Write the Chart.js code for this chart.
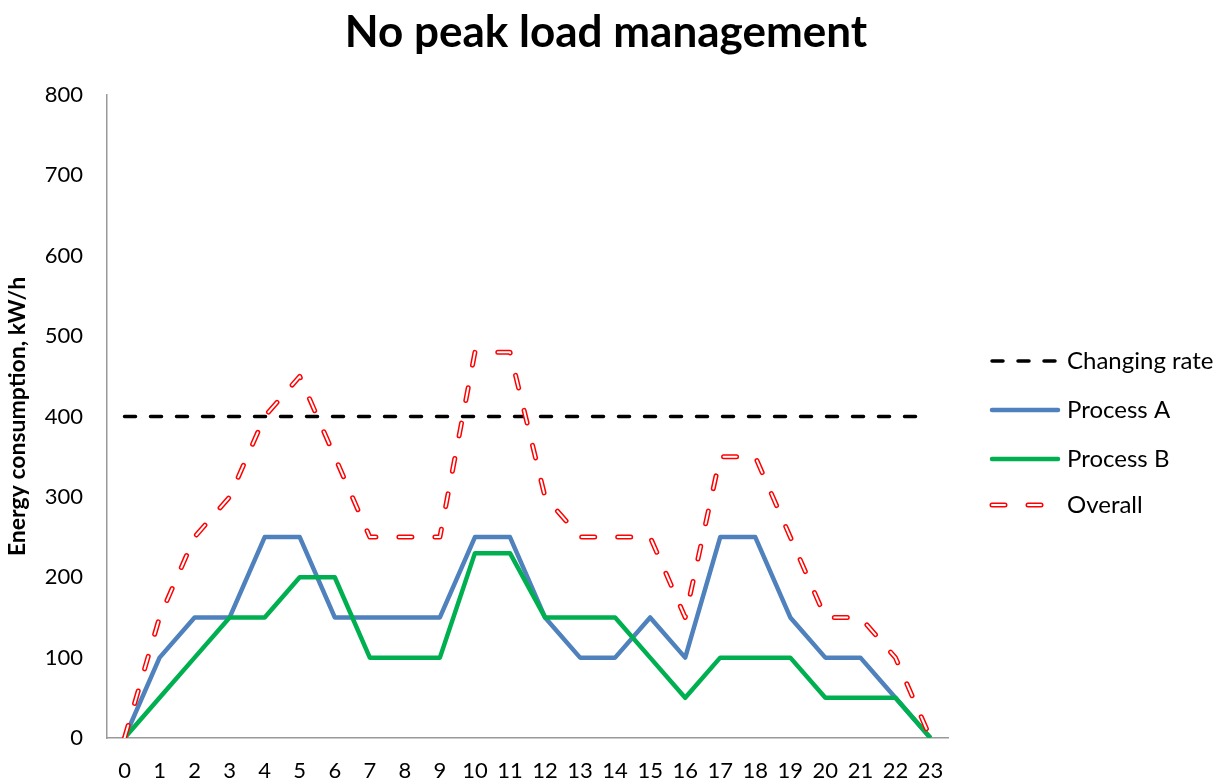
<!DOCTYPE html>
<html>
<head>
<meta charset="utf-8">
<script src="https://cdn.jsdelivr.net/npm/chart.js@4.4.1/dist/chart.umd.min.js"></script>
<style>
  html, body { margin: 0; padding: 0; background: #fff; }
  #wrap { width: 1216px; height: 783px; }
</style>
</head>
<body>
<div id="wrap"><canvas id="chart" width="1216" height="783"></canvas></div>
<script>
// hours of the day
const hours = ['0','1','2','3','4','5','6','7','8','9','10','11','12','13','14','15','16','17','18','19','20','21','22','23'];

// energy consumption per hour, kW/h
const processA = [0, 100, 150, 150, 250, 250, 150, 150, 150, 150, 250, 250, 150, 100, 100, 150, 100, 250, 250, 150, 100, 100, 50, 0];
const processB = [0, 50, 100, 150, 150, 200, 200, 100, 100, 100, 230, 230, 150, 150, 150, 100, 50, 100, 100, 100, 50, 50, 50, 0];
const overall = [0, 150, 250, 300, 400, 450, 350, 250, 250, 250, 480, 480, 300, 250, 250, 250, 150, 350, 350, 250, 150, 150, 100, 0];
const changingRate = [400, 400, 400, 400, 400, 400, 400, 400, 400, 400, 400, 400, 400, 400, 400, 400, 400, 400, 400, 400, 400, 400, 400, 400];

const yTicks = [0, 100, 200, 300, 400, 500, 600, 700, 800];

const FONT = 'Lato, "Open Sans", sans-serif';

// title and legend drawn by hand, the legend samples are lines not boxes
const extras = {
    id: 'extras',
    afterDraw(chart) {
        const c = chart.ctx;
        c.save();
        c.fillStyle = '#000';
        c.font = 'bold 44px ' + FONT;
        c.textAlign = 'center';
        c.textBaseline = 'middle';
        c.fillText('No peak load management', 606, 33);

        const items = [
            { text: 'Changing rate', y: 361, color: '#000', width: 3.5, dash: [11, 15] },
            { text: 'Process A', y: 410, color: '#4F81BD', width: 4.5, dash: [] },
            { text: 'Process B', y: 459, color: '#00B050', width: 4.5, dash: [] },
            { text: 'Overall', y: 505, color: '#FF0000', width: 5, dash: [13, 23], inner: true }
        ];
        c.font = '24px ' + FONT;
        c.textAlign = 'left';
        items.forEach(function (it) {
            c.beginPath();
            c.lineCap = 'round';
            c.lineWidth = it.width;
            c.strokeStyle = it.color;
            c.setLineDash(it.dash);
            c.moveTo(992, it.y);
            c.lineTo(1058, it.y);
            c.stroke();
            if (it.inner) {
                c.lineWidth = 2;
                c.strokeStyle = '#fff';
                c.stroke();
            }
            c.setLineDash([]);
            c.fillStyle = '#000';
            c.fillText(it.text, 1067, it.y);
        });
        c.restore();
    }
};

const ctx = document.getElementById('chart').getContext('2d');
new Chart(ctx, {
    type: 'line',
    data: {
        labels: hours,
        datasets: [
            {
                label: 'Overall inner',
                data: overall,
                borderColor: '#fff',
                borderWidth: 2,
                borderDash: [13, 23],
                borderCapStyle: 'round',
                order: 0
            },
            {
                label: 'Overall',
                data: overall,
                borderColor: '#FF0000',
                borderWidth: 5,
                borderDash: [13, 23],
                borderCapStyle: 'round',
                order: 1
            },
            {
                label: 'Changing rate',
                data: changingRate,
                borderColor: '#000',
                borderWidth: 3.5,
                borderDash: [11, 15],
                borderCapStyle: 'round',
                order: 2
            },
            {
                label: 'Process B',
                data: processB,
                borderColor: '#00B050',
                borderWidth: 4.5,
                order: 3
            },
            {
                label: 'Process A',
                data: processA,
                borderColor: '#4F81BD',
                borderWidth: 4.5,
                order: 4
            }
        ]
    },
    options: {
        responsive: false,
        animation: false,
        elements: {
            point: { radius: 0 },
            line: { tension: 0, borderJoinStyle: 'round' }
        },
        layout: { padding: { top: 95, right: 268, left: 0, bottom: 0 } },
        plugins: {
            legend: { display: false },
            title: { display: false },
            tooltip: { enabled: false }
        },
        scales: {
            x: {
                offset: true,
                grid: { display: false, drawTicks: false },
                border: { color: '#999', width: 1.5 },
                ticks: { color: '#000', font: { family: FONT, size: 22 }, padding: 20, maxRotation: 0, autoSkip: false },
                afterFit: function (s) { s.height = 45; }
            },
            y: {
                min: 0,
                max: 800,
                grid: { display: false, drawTicks: false },
                border: { color: '#999', width: 1.5 },
                afterBuildTicks: function (s) { s.ticks = yTicks.map(function (v) { return { value: v }; }); },
                ticks: { color: '#000', font: { family: FONT, size: 22 }, padding: 24 },
                title: {
                    display: true,
                    text: 'Energy consumption, kW/h',
                    color: '#000',
                    font: { family: FONT, size: 23, weight: 'bold' },
                    padding: { top: 4, bottom: 0 }
                },
                afterFit: function (s) { s.width = 107; }
            }
        }
    },
    plugins: [extras]
});
</script>
</body>
</html>
